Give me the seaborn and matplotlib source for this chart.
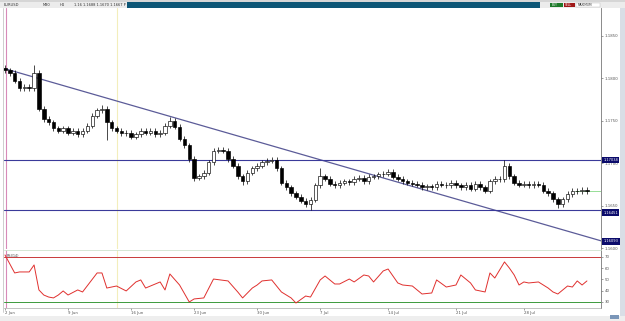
import numpy as np
import pandas as pd
import matplotlib
matplotlib.use("Agg")
import matplotlib.pyplot as plt
import matplotlib.transforms as mtrans
from matplotlib.patches import Rectangle
import seaborn as sns

# ---------------- data ----------------
closes = [1.1809, 1.1806, 1.1797, 1.1788, 1.1790, 1.1788, 1.1806, 1.1764, 1.1752, 1.1748,
          1.1741, 1.1738, 1.1741, 1.1736, 1.1738, 1.1734, 1.1738, 1.1744, 1.1756, 1.1762,
          1.1764, 1.1748, 1.1741, 1.1738, 1.1735, 1.1736, 1.1731, 1.1734, 1.1738, 1.1736,
          1.1738, 1.1734, 1.1736, 1.1744, 1.1750, 1.1743, 1.1729, 1.1721, 1.1705, 1.1683,
          1.1685, 1.1689, 1.1701, 1.1715, 1.1716, 1.1715, 1.1705, 1.1697, 1.1685, 1.1679,
          1.1689, 1.1694, 1.1697, 1.1701, 1.1703, 1.1704, 1.1694, 1.1677, 1.1672, 1.1665,
          1.1661, 1.1656, 1.1652, 1.1657, 1.1674, 1.1685, 1.1682, 1.1676, 1.1674, 1.1677,
          1.1679, 1.1678, 1.1682, 1.1683, 1.1679, 1.1684, 1.1685, 1.1687, 1.1688, 1.1690,
          1.1684, 1.1682, 1.1679, 1.1677, 1.1676, 1.1675, 1.1672, 1.1673, 1.1672, 1.1676,
          1.1675, 1.1674, 1.1677, 1.1674, 1.1672, 1.1675, 1.1670, 1.1676, 1.1672, 1.1668,
          1.1679, 1.1682, 1.1681, 1.1697, 1.1685, 1.1677, 1.1675, 1.1676, 1.1674, 1.1676,
          1.1675, 1.1668, 1.1665, 1.1658, 1.1652, 1.1658, 1.1664, 1.1668, 1.1667, 1.1669,
          1.1667]
first_open = 1.1812
spike_highs = {6: 1.1815, 20: 1.1768, 34: 1.1754, 65: 1.1694, 103: 1.1704}
spike_lows = {21: 1.1727, 39: 1.1679, 49: 1.1674, 63: 1.1645, 114: 1.1647}
wick = 0.0003

trend_x = [0.0, 122.9]
trend_y = [1.1811, 1.1609]
level_upper = 1.17038
level_lower = 1.16451
trend_end_label = 1.16093
last_price = 1.1667

price_ticks = [1.1600, 1.1650, 1.1700, 1.1750, 1.1800, 1.1850]
price_tick_labels = ["1.1600", "1.1650", "1.1700", "1.1750", "1.1800", "1.1850"]

rsi_idx = [0, 2, 3, 5, 6, 7, 8, 9, 10, 11, 12, 13, 15, 16, 19, 20, 21, 23, 25, 27,
           28, 29, 32, 33, 34, 36, 38, 39, 41, 43, 46, 48, 49, 51, 52, 53, 55, 57, 59, 60,
           62, 63, 65, 66, 68, 69, 71, 72, 74, 75, 76, 78, 79, 81, 82, 84, 86, 88, 89, 91,
           93, 94, 96, 97, 99, 100, 101, 103, 104, 105, 106, 107, 108, 110, 112, 113, 114, 116,
           117, 118, 119, 120]
rsi_val = [71.8, 55.8, 56.7, 56.7, 62.9, 40.7, 36.2, 34.4, 33.6, 36.2, 39.8, 36.2, 40.7, 38.9,
           55.8, 55.8, 42.4, 44.2, 39.8, 47.8, 49.6, 42.4, 47.8, 40.7, 54.9, 45.1, 30.0, 32.7,
           33.6, 50.4, 48.7, 38.9, 33.6, 42.4, 45.1, 48.7, 49.6, 38.9, 33.6, 29.1, 35.3, 34.4,
           49.6, 53.1, 46.0, 46.0, 50.4, 47.8, 54.0, 53.1, 47.8, 57.6, 59.3, 46.9, 45.1, 44.2,
           37.1, 38.0, 49.6, 43.3, 45.1, 54.0, 46.9, 40.7, 38.9, 55.8, 51.3, 65.6, 60.2, 54.0,
           45.1, 47.8, 46.9, 47.8, 42.4, 38.9, 37.1, 44.2, 43.3, 48.7, 45.1, 48.7]
rsi_levels = [70, 30]
rsi_ticks = [30, 40, 50, 60, 70]

date_pos = [0, 13, 26, 39, 52, 65, 79, 93, 107]
date_labels = ["2 Jun", "9 Jun", "16 Jun", "23 Jun", "30 Jun",
               "7 Jul", "14 Jul", "21 Jul", "28 Jul"]

# ---------------- build frame ----------------
n = len(closes)
opens = [first_open] + closes[:-1]
df = pd.DataFrame({"i": np.arange(n), "open": opens, "close": closes})
df["high"] = [spike_highs.get(i, max(o, c) + wick) for i, o, c in zip(df.i, df.open, df.close)]
df["low"] = [spike_lows.get(i, min(o, c) - wick) for i, o, c in zip(df.i, df.open, df.close)]
rsi_df = pd.DataFrame({"i": rsi_idx, "rsi": rsi_val})
trend_df = pd.DataFrame({"i": trend_x, "p": trend_y})

# ---------------- figure ----------------
sns.set_style("white")
plt.rcParams["font.family"] = ["DejaVu Sans"]
W, H = 625, 321
fig = plt.figure(figsize=(W / 100, H / 100), dpi=100)
fig.patch.set_facecolor("white")

def fx(px):
    return px / W

def fy(py):
    return 1 - py / H

# toolbar
fig.patches.append(Rectangle((0, fy(2.5)), 1, 2.5 / H, transform=fig.transFigure,
                             fc="#d6d6d6", ec="none"))
fig.patches.append(Rectangle((0, fy(7.5)), 1, 5 / H, transform=fig.transFigure,
                             fc="#ececec", ec="none"))
fig.patches.append(Rectangle((fx(127), fy(7.5)), fx(540 - 127), 5 / H, transform=fig.transFigure,
                             fc="#0d5676", ec="none"))
fig.patches.append(Rectangle((fx(550), fy(7)), fx(13), 4 / H, transform=fig.transFigure,
                             fc="#1d7a2a", ec="none"))
fig.patches.append(Rectangle((fx(564), fy(7)), fx(11), 4 / H, transform=fig.transFigure,
                             fc="#a01818", ec="none"))
fig.patches.append(Rectangle((fx(576), fy(7)), fx(24), 4 / H, transform=fig.transFigure,
                             fc="#ffffff", ec="#bbbbbb", lw=0.3))
for x, t in [(4, "EURUSD"), (43, "M30"), (60, "H4"), (74, "1.16 1.1688 1.1670 1.1667 P"), ]:
    fig.text(fx(x), fy(5), t, fontsize=2.6, color="#333333", va="center")
fig.text(fx(552), fy(5), "BUY", fontsize=2.2, color="white", va="center")
fig.text(fx(565), fy(5), "SELL", fontsize=2.2, color="white", va="center")
fig.text(fx(578), fy(5), "MAXIMUM", fontsize=2.2, color="#333333", va="center")
# right scroll strip & bottom strip
fig.patches.append(Rectangle((fx(620), fy(316)), fx(5), 308 / H, transform=fig.transFigure,
                             fc="#d9dee6", ec="none"))
fig.patches.append(Rectangle((0, 0), 1, 5 / H, transform=fig.transFigure,
                             fc="#eeeeee", ec="none"))
fig.patches.append(Rectangle((fx(610), fy(319)), fx(9), 4 / H, transform=fig.transFigure,
                             fc="#7a96b8", ec="none"))

# axes
ax = fig.add_axes([fx(4), fy(249), fx(597), 241 / H])
ax_r = fig.add_axes([fx(4), fy(307.5), fx(597), 57.5 / H], sharex=ax)

xmin, xmax = -0.2, 122.9
ax.set_xlim(xmin, xmax)
ax.set_ylim(1.15994, 1.18823)

# vertical markers
ax.axvline(23.1, color="#f3eebc", lw=0.8, zorder=0)
ax_r.axvline(23.1, color="#f3eebc", lw=0.8, zorder=0)
ax.axvline(0.2, color="#d88ab8", lw=0.8, zorder=1)
ax_r.axvline(0.2, color="#d88ab8", lw=0.8, zorder=1)

# candles
ax.vlines(df.i, df.low, df.high, color="black", lw=0.5, zorder=3)
bw = 0.72
for _, r in df.iterrows():
    bull = r.close >= r.open
    lo = min(r.open, r.close)
    h = max(abs(r.close - r.open), 0.00004)
    ax.add_patch(Rectangle((r.i - bw / 2, lo), bw, h,
                           fc="white" if bull else "black", ec="black", lw=0.45, zorder=4))

# lines
sns.lineplot(data=trend_df, x="i", y="p", ax=ax, color="#5b5b98", lw=0.9, zorder=2)
ax.axhline(level_upper, color="#3a3a9a", lw=0.8, zorder=2)
ax.axhline(level_lower, color="#3a3a9a", lw=0.8, zorder=2)
ax.hlines(last_price, 117.5, xmax, color="#86d886", lw=0.6, zorder=2)

# right price axis
ax.yaxis.tick_right()
ax.set_yticks(price_ticks)
ax.set_yticklabels(price_tick_labels)
ax.tick_params(axis="y", labelsize=2.8, colors="#555555", length=1.5, width=0.4, pad=1)
ax.tick_params(axis="x", bottom=False, labelbottom=False)
ax.set_xlabel("")
ax.set_ylabel("")
for s in ["top", "left", "bottom"]:
    ax.spines[s].set_visible(False)
ax.spines["right"].set_color("#777777")
ax.spines["right"].set_linewidth(0.6)

tr = mtrans.blended_transform_factory(ax.transAxes, ax.transData)
for val, txt in [(level_upper, "1.17038"), (level_lower - 0.0003, "1.16451"),
                 (trend_end_label - 0.0001, "1.16093")]:
    ax.text(1.004, val, txt, transform=tr, fontsize=2.6, color="white", va="center",
            ha="left", clip_on=False, zorder=10,
            bbox=dict(boxstyle="square,pad=0.35", fc="#0b0b6b", ec="none"))

# RSI panel
ax_r.set_ylim(25.1, 76.2)
sns.lineplot(data=rsi_df, x="i", y="rsi", ax=ax_r, color="#e0302e", lw=0.7, zorder=3)
ax_r.axhline(rsi_levels[0], color="#c83a3a", lw=0.7, zorder=2)
ax_r.axhline(rsi_levels[1], color="#3c9a3c", lw=0.7, zorder=2)
ax_r.yaxis.tick_right()
ax_r.set_yticks(rsi_ticks)
ax_r.set_yticklabels([str(t) for t in rsi_ticks])
ax_r.tick_params(axis="y", labelsize=2.8, colors="#555555", length=1.5, width=0.4, pad=1)
ax_r.set_xticks(date_pos)
ax_r.set_xticklabels(date_labels)
ax_r.tick_params(axis="x", labelsize=2.8, colors="#555555", length=1.5, width=0.4, pad=1,
                 bottom=True)
for lab in ax_r.get_xticklabels():
    lab.set_horizontalalignment("left")
ax_r.set_xlabel("")
ax_r.set_ylabel("")
for s in ["top", "left"]:
    ax_r.spines[s].set_visible(False)
ax_r.spines["right"].set_color("#777777")
ax_r.spines["right"].set_linewidth(0.6)
ax_r.spines["bottom"].set_color("#aaaaaa")
ax_r.spines["bottom"].set_linewidth(0.5)
ax_r.text(0.004, 0.93, "RSI(14)", transform=ax_r.transAxes, fontsize=2.4, color="#444444",
          va="top")

# separator line between panels
fig.add_artist(plt.Line2D([fx(4), fx(601)], [fy(249.5), fy(249.5)], transform=fig.transFigure,
                          color="#cfe3cf", lw=0.6))
fig.add_artist(plt.Line2D([fx(3), fx(3)], [fy(8), fy(312)], transform=fig.transFigure,
                          color="#bbbbbb", lw=0.5))

fig.savefig("out.png", dpi=100)
